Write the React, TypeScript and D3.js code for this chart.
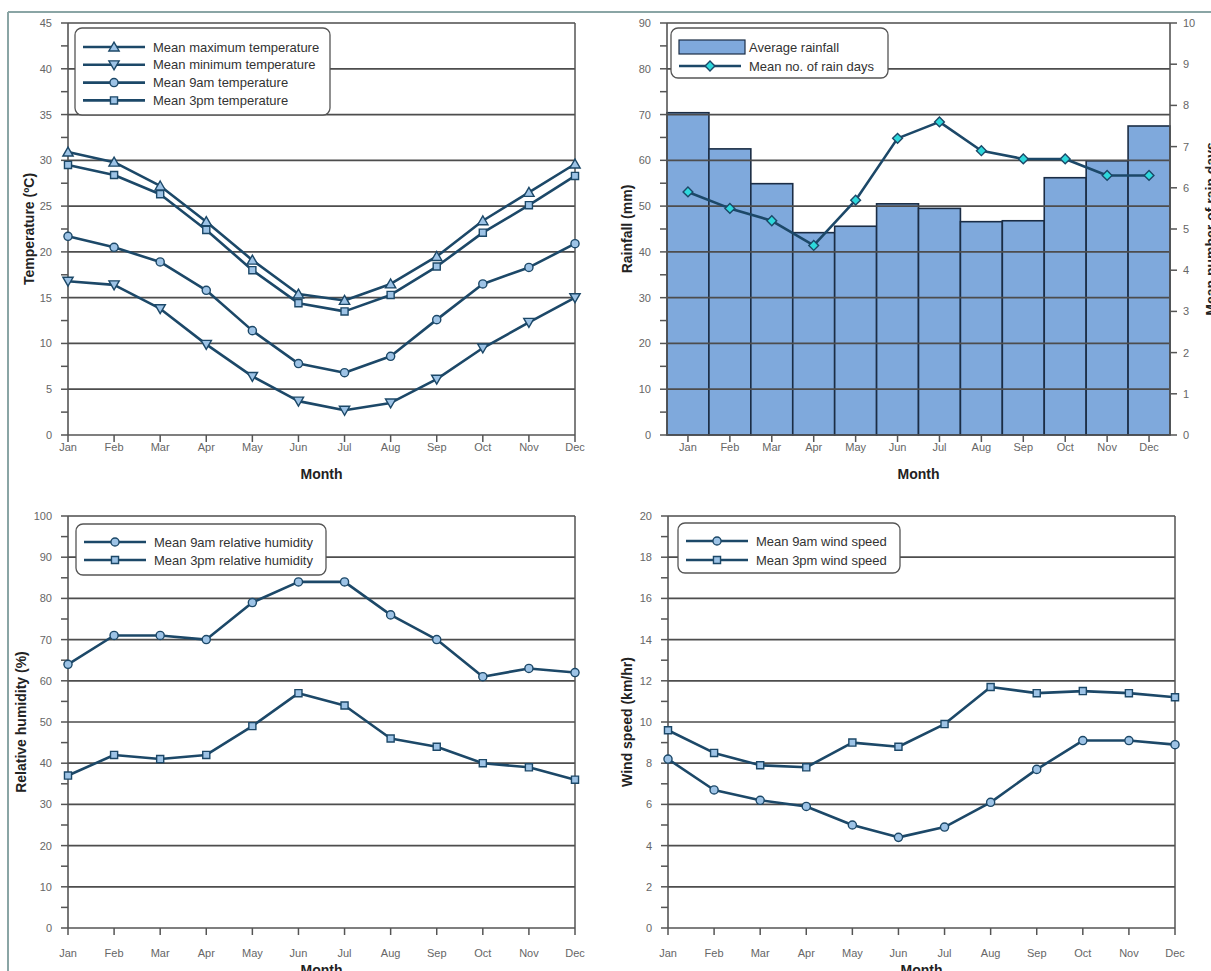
import React from 'react';
import * as d3 from 'd3';

// Monthly climate statistics
const months = ['Jan', 'Feb', 'Mar', 'Apr', 'May', 'Jun', 'Jul', 'Aug', 'Sep', 'Oct', 'Nov', 'Dec'];

const tempMax = [30.9, 29.8, 27.2, 23.3, 19.1, 15.4, 14.7, 16.5, 19.5, 23.4, 26.5, 29.6];
const tempMin = [16.8, 16.4, 13.8, 9.9, 6.4, 3.7, 2.7, 3.5, 6.1, 9.5, 12.3, 15.0];
const temp9am = [21.7, 20.5, 18.9, 15.8, 11.4, 7.8, 6.8, 8.6, 12.6, 16.5, 18.3, 20.9];
const temp3pm = [29.5, 28.4, 26.3, 22.4, 18.0, 14.4, 13.5, 15.3, 18.4, 22.1, 25.1, 28.3];

const rainfall = [70.4, 62.5, 54.9, 44.2, 45.6, 50.5, 49.5, 46.6, 46.8, 56.2, 59.9, 67.5];
const rainDays = [5.9, 5.5, 5.2, 4.6, 5.7, 7.2, 7.6, 6.9, 6.7, 6.7, 6.3, 6.3];

const humidity9am = [64, 71, 71, 70, 79, 84, 84, 76, 70, 61, 63, 62];
const humidity3pm = [37, 42, 41, 42, 49, 57, 54, 46, 44, 40, 39, 36];

const wind9am = [8.2, 6.7, 6.2, 5.9, 5.0, 4.4, 4.9, 6.1, 7.7, 9.1, 9.1, 8.9];
const wind3pm = [9.6, 8.5, 7.9, 7.8, 9.0, 8.8, 9.9, 11.7, 11.4, 11.5, 11.4, 11.2];

const LINE = '#1c4868';
const MARK_FILL = '#9dc3e6';
const MARK_STROKE = '#1c4868';
const GRID = '#4d4d4d';
const AXIS = '#555';
const TICK_TEXT = '#666';
const LEGEND_TEXT = '#333';
const TITLE_TEXT = '#222';
const BAR_FILL = '#7fa9dc';
const BAR_STROKE = '#1b2d45';
const DIAMOND_FILL = '#2ed8dc';
const FONT = 'Liberation Sans, Arial, sans-serif';
const TICK_SIZE = 11;
const TITLE_SIZE = 14;
const LEGEND_SIZE = 13;

type Shape = 'up' | 'down' | 'circle' | 'square' | 'diamond';

function symbolPath(shape: Shape): string {
  const gen = d3.symbol();
  if (shape === 'up' || shape === 'down') return gen.type(d3.symbolTriangle).size(46)() as string;
  if (shape === 'circle') return gen.type(d3.symbolCircle).size(52)() as string;
  if (shape === 'square') return gen.type(d3.symbolSquare).size(50)() as string;
  // diamond: a square turned by 45 degrees
  return gen.type(d3.symbolSquare).size(48)() as string;
}

function Marker({ x, y, shape, fill }: { x: number; y: number; shape: Shape; fill?: string }) {
  const rot = shape === 'down' ? ' rotate(180)' : shape === 'diamond' ? ' rotate(45)' : '';
  const dy = shape === 'up' ? 1 : shape === 'down' ? -1 : 0;
  return (
    <path
      d={symbolPath(shape)}
      transform={`translate(${x},${y + dy})${rot}`}
      fill={fill ?? MARK_FILL}
      stroke={MARK_STROKE}
      strokeWidth={1.4}
    />
  );
}

interface LegendEntry {
  label: string;
  shape: Shape | 'bar';
}

interface LegendProps {
  x: number; y: number; w: number; h: number; gap: number; first: number; entries: LegendEntry[];
}

function Legend({ x, y, w, h, entries, gap, first }: LegendProps) {
  const lineStart = x + 8;
  const lineEnd = x + 70;
  const textX = x + 78;
  return (
    <g>
      <rect x={x} y={y} width={w} height={h} rx={7} fill="#fff" stroke="#555" strokeWidth={1.3} />
      {entries.map((e, i) => {
        const cy = y + first + i * gap;
        return (
          <g key={i}>
            {e.shape === 'bar' ? (
              <rect x={lineStart} y={cy - 7} width={lineEnd - lineStart + 4} height={14} fill={BAR_FILL} stroke={BAR_STROKE} strokeWidth={1.2} />
            ) : (
              <g>
                <line x1={lineStart} x2={lineEnd} y1={cy} y2={cy} stroke={LINE} strokeWidth={2.6} />
                <Marker x={(lineStart + lineEnd) / 2} y={cy} shape={e.shape} fill={e.shape === 'diamond' ? DIAMOND_FILL : undefined} />
              </g>
            )}
            <text x={textX} y={cy + 4.5} fontSize={LEGEND_SIZE} fill={LEGEND_TEXT} fontFamily={FONT}>{e.label}</text>
          </g>
        );
      })}
    </g>
  );
}

interface Series {
  values: number[];
  shape: Shape;
}

interface PanelProps {
  left: number; right: number; top: number; bottom: number;
  yMax: number; yStep: number; minor: number;
  series: Series[];
  yTitle: string; yTitleX: number;
  labelY: number; monthY: number;
  legend: LegendProps;
}

function YAxis({ scale, x, ticks, minorTicks, side }: { scale: d3.ScaleLinear<number, number>; x: number; ticks: number[]; minorTicks: number[]; side: 'left' | 'right' }) {
  const dir = side === 'left' ? -1 : 1;
  return (
    <g>
      {minorTicks.map((t) => (
        <line key={'m' + t} x1={x} x2={x + dir * 7} y1={scale(t)} y2={scale(t)} stroke={AXIS} strokeWidth={1.5} />
      ))}
      {ticks.map((t) => (
        <g key={t}>
          <line x1={x} x2={x + dir * 7} y1={scale(t)} y2={scale(t)} stroke={AXIS} strokeWidth={1.5} />
          <text
            x={x + dir * (side === 'left' ? 16 : 13)}
            y={scale(t) + 4}
            textAnchor={side === 'left' ? 'end' : 'start'}
            fontSize={TICK_SIZE}
            fill={TICK_TEXT}
            fontFamily={FONT}
          >
            {t}
          </text>
        </g>
      ))}
    </g>
  );
}

function YTitle({ x, y, text }: { x: number; y: number; text: string }) {
  return (
    <text
      transform={`translate(${x},${y}) rotate(-90)`}
      textAnchor="middle"
      fontSize={TITLE_SIZE}
      fontWeight="bold"
      fill={TITLE_TEXT}
      fontFamily={FONT}
    >
      {text}
    </text>
  );
}

function LinePanel(p: PanelProps) {
  const x = d3.scalePoint<string>().domain(months).range([p.left, p.right]);
  const y = d3.scaleLinear().domain([0, p.yMax]).range([p.bottom, p.top]);
  const ticks = d3.range(0, p.yMax + p.yStep / 2, p.yStep);
  const minorTicks = d3.range(p.minor, p.yMax, p.yStep);
  const line = d3.line<number>().x((_, i) => x(months[i]) as number).y((v) => y(v));
  const midX = (p.left + p.right) / 2;
  const midY = (p.top + p.bottom) / 2;
  return (
    <g>
      {ticks.filter((t) => t > 0).map((t) => (
        <line key={t} x1={p.left} x2={p.right} y1={y(t)} y2={y(t)} stroke={GRID} strokeWidth={1.7} />
      ))}
      <line x1={p.right} x2={p.right} y1={p.top} y2={p.bottom} stroke={AXIS} strokeWidth={1.5} />
      <line x1={p.left} x2={p.left} y1={p.top} y2={p.bottom} stroke={AXIS} strokeWidth={1.6} />
      <line x1={p.left} x2={p.right} y1={p.bottom} y2={p.bottom} stroke={AXIS} strokeWidth={1.6} />
      <YAxis scale={y} x={p.left} ticks={ticks} minorTicks={minorTicks} side="left" />
      {months.map((m) => (
        <g key={m}>
          <line x1={x(m)} x2={x(m)} y1={p.bottom} y2={p.bottom + 7} stroke={AXIS} strokeWidth={1.5} />
          <text x={x(m)} y={p.labelY} textAnchor="middle" fontSize={TICK_SIZE} fill={TICK_TEXT} fontFamily={FONT}>{m}</text>
        </g>
      ))}
      <text x={midX} y={p.monthY} textAnchor="middle" fontSize={TITLE_SIZE} fontWeight="bold" fill={TITLE_TEXT} fontFamily={FONT}>Month</text>
      <YTitle x={p.yTitleX} y={midY} text={p.yTitle} />
      {p.series.map((s, si) => (
        <g key={si}>
          <path d={line(s.values) as string} fill="none" stroke={LINE} strokeWidth={2.6} strokeLinejoin="round" />
          {s.values.map((v, i) => (
            <Marker key={i} x={x(months[i]) as number} y={y(v)} shape={s.shape} />
          ))}
        </g>
      ))}
      <Legend {...p.legend} />
    </g>
  );
}

function RainPanel() {
  const left = 667, right = 1170, top = 23, bottom = 435;
  const x = d3.scaleBand<string>().domain(months).range([left, right]).paddingInner(0).paddingOuter(0);
  const y = d3.scaleLinear().domain([0, 90]).range([bottom, top]);
  const y2 = d3.scaleLinear().domain([0, 10]).range([bottom, top]);
  const ticks = d3.range(0, 91, 10);
  const minorTicks = d3.range(5, 90, 10);
  const ticks2 = d3.range(0, 11, 1);
  const cx = (m: string) => (x(m) as number) + x.bandwidth() / 2;
  const line = d3.line<number>().x((_, i) => cx(months[i])).y((v) => y2(v));
  const midY = (top + bottom) / 2;
  return (
    <g>
      {rainfall.map((v, i) => (
        <rect
          key={i}
          x={x(months[i])}
          y={y(v)}
          width={x.bandwidth()}
          height={bottom - y(v)}
          fill={BAR_FILL}
          stroke={BAR_STROKE}
          strokeWidth={1.6}
        />
      ))}
      {ticks.filter((t) => t > 0).map((t) => (
        <line key={t} x1={left} x2={right} y1={y(t)} y2={y(t)} stroke={GRID} strokeWidth={1.7} />
      ))}
      <line x1={left} x2={left} y1={top} y2={bottom} stroke={AXIS} strokeWidth={1.6} />
      <line x1={right} x2={right} y1={top} y2={bottom} stroke={AXIS} strokeWidth={1.6} />
      <line x1={left} x2={right} y1={bottom} y2={bottom} stroke={AXIS} strokeWidth={1.6} />
      <YAxis scale={y} x={left} ticks={ticks} minorTicks={minorTicks} side="left" />
      <YAxis scale={y2} x={right} ticks={ticks2} minorTicks={[]} side="right" />
      {months.map((m) => (
        <g key={m}>
          <line x1={cx(m)} x2={cx(m)} y1={bottom} y2={bottom + 7} stroke={AXIS} strokeWidth={1.5} />
          <text x={cx(m)} y={451} textAnchor="middle" fontSize={TICK_SIZE} fill={TICK_TEXT} fontFamily={FONT}>{m}</text>
        </g>
      ))}
      <text x={(left + right) / 2} y={479} textAnchor="middle" fontSize={TITLE_SIZE} fontWeight="bold" fill={TITLE_TEXT} fontFamily={FONT}>Month</text>
      <YTitle x={632} y={midY} text="Rainfall (mm)" />
      <YTitle x={1216} y={midY} text="Mean number of rain days" />
      <path d={line(rainDays) as string} fill="none" stroke={LINE} strokeWidth={2.6} strokeLinejoin="round" />
      {rainDays.map((v, i) => (
        <Marker key={i} x={cx(months[i])} y={y2(v)} shape="diamond" fill={DIAMOND_FILL} />
      ))}
      <Legend
        x={671} y={28} w={217} h={50} gap={19} first={19}
        entries={[{ label: 'Average rainfall', shape: 'bar' }, { label: 'Mean no. of rain days', shape: 'diamond' }]}
      />
    </g>
  );
}

export default function App() {
  return (
    <svg width={1211} height={971} style={{ position: 'absolute', left: 0, top: 0, display: 'block', background: '#fff' }}>
      <rect x={0} y={0} width={1211} height={971} fill="#fff" />
      <line x1={8} x2={1211} y1={12} y2={12} stroke="#8aa5a5" strokeWidth={2} />
      <line x1={8} x2={8} y1={12} y2={971} stroke="#8aa5a5" strokeWidth={2} />
      <LinePanel
        left={68} right={575} top={23} bottom={435}
        yMax={45} yStep={5} minor={2.5}
        series={[
          { values: tempMax, shape: 'up' },
          { values: tempMin, shape: 'down' },
          { values: temp9am, shape: 'circle' },
          { values: temp3pm, shape: 'square' },
        ]}
        yTitle="Temperature (ºC)" yTitleX={34}
        labelY={451} monthY={479}
        legend={{
          x: 75, y: 28, w: 255, h: 87, gap: 17.8, first: 19,
          entries: [
            { label: 'Mean maximum temperature', shape: 'up' },
            { label: 'Mean minimum temperature', shape: 'down' },
            { label: 'Mean 9am temperature', shape: 'circle' },
            { label: 'Mean 3pm temperature', shape: 'square' },
          ],
        }}
      />
      <RainPanel />
      <LinePanel
        left={68} right={575} top={516} bottom={928}
        yMax={100} yStep={10} minor={5}
        series={[
          { values: humidity9am, shape: 'circle' },
          { values: humidity3pm, shape: 'square' },
        ]}
        yTitle="Relative humidity (%)" yTitleX={26}
        labelY={957} monthY={975}
        legend={{
          x: 76, y: 524, w: 250, h: 51, gap: 18, first: 18,
          entries: [
            { label: 'Mean 9am relative humidity', shape: 'circle' },
            { label: 'Mean 3pm relative humidity', shape: 'square' },
          ],
        }}
      />
      <LinePanel
        left={668} right={1175} top={516} bottom={928}
        yMax={20} yStep={2} minor={1}
        series={[
          { values: wind9am, shape: 'circle' },
          { values: wind3pm, shape: 'square' },
        ]}
        yTitle="Wind speed (km/hr)" yTitleX={632}
        labelY={957} monthY={975}
        legend={{
          x: 678, y: 523, w: 222, h: 50, gap: 19, first: 18,
          entries: [
            { label: 'Mean 9am wind speed', shape: 'circle' },
            { label: 'Mean 3pm wind speed', shape: 'square' },
          ],
        }}
      />
    </svg>
  );
}
